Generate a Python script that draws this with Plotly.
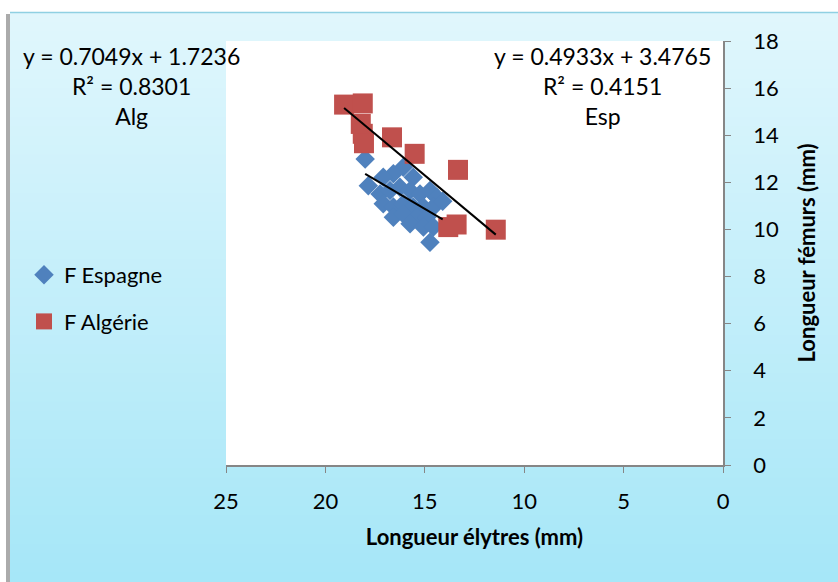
import numpy as np
import plotly.graph_objects as go

# Élytres (x) and fémurs (y) lengths, in mm
esp_elytres = [18.0, 17.84, 16.08, 16.58, 17.09, 15.58, 17.25, 16.75, 16.25, 15.74,
               15.24, 14.74, 14.4, 17.09, 16.58, 16.08, 15.58, 15.07, 14.57, 16.58,
               16.08, 15.41, 14.9, 15.74, 15.07, 14.57, 14.74, 14.1]
esp_femurs = [12.99, 11.86, 12.64, 12.36, 12.22, 12.22, 11.51, 11.65, 11.79, 11.65,
              11.51, 11.65, 11.37, 11.09, 10.95, 11.09, 10.95, 10.95, 10.95, 10.52,
              10.66, 10.52, 10.52, 10.24, 10.10, 10.10, 9.46, 11.2]

alg_elytres = [19.06, 18.12, 18.22, 18.12, 18.06, 16.65, 15.51, 13.33, 13.82, 13.40, 11.43]
alg_femurs = [15.30, 15.35, 14.48, 14.06, 13.66, 13.91, 13.21, 12.53, 10.10, 10.21, 9.99]

# Linear trend coefficients (slope, intercept, R²)
alg_fit = (0.7049, 1.7236, 0.8301)
esp_fit = (0.4933, 3.4765, 0.4151)

x_ticks = [25, 20, 15, 10, 5, 0]
y_ticks = [0, 2, 4, 6, 8, 10, 12, 14, 16, 18]

BLUE = "#4F81BD"
RED = "#C0504D"
FONT = "Lato"

W, H = 838, 582
L, R, T, B = 226, 723, 41, 465  # plot area in pixels


def px(xp):
    return (xp - L) / (R - L)


def py(yp):
    return (B - yp) / (B - T)


fig = go.Figure()

fig.add_trace(go.Scatter(
    x=esp_elytres, y=esp_femurs, mode="markers", name="F Espagne", legendgroup="esp",
    marker=dict(symbol="diamond", size=15, color=BLUE, line=dict(width=0)),
))
fig.add_trace(go.Scatter(
    x=alg_elytres, y=alg_femurs, mode="markers", name="F Algérie", legendgroup="alg",
    marker=dict(symbol="square", size=20, color=RED, line=dict(width=0)),
))


def trend(xs, fit):
    xx = np.array([min(xs), max(xs)])
    return xx, fit[0] * xx + fit[1]


for xs, fit in ((alg_elytres, alg_fit), (esp_elytres, esp_fit)):
    tx, ty = trend(xs, fit)
    fig.add_trace(go.Scatter(x=tx, y=ty, mode="lines", showlegend=False,
                             line=dict(color="black", width=2), hoverinfo="skip"))

# Background: vertical light-blue gradient inside a frame
shapes = []
top_c = np.array([0xE1, 0xF7, 0xFD])
bot_c = np.array([0xA6, 0xE7, 0xF8])
y0, y1 = 12, H
n = 60
for i in range(n):
    a = y0 + (y1 - y0) * i / n
    b = y0 + (y1 - y0) * (i + 1) / n
    c = top_c + (bot_c - top_c) * (i + 0.5) / n
    shapes.append(dict(type="rect", xref="paper", yref="paper", layer="below",
                       x0=px(10), x1=px(W + 2), y0=py(a), y1=py(b + 0.6),
                       fillcolor="rgb(%d,%d,%d)" % tuple(c.astype(int)),
                       line=dict(width=0)))
# frame shadow on the left and thin top edge
shapes.append(dict(type="rect", xref="paper", yref="paper", layer="below",
                   x0=px(6), x1=px(10), y0=py(14), y1=py(H + 2),
                   fillcolor="#ABABAB", line=dict(width=0)))
shapes.append(dict(type="line", xref="paper", yref="paper", layer="below",
                   x0=px(10), x1=px(W + 2), y0=py(12.5), y1=py(12.5),
                   line=dict(color="#8FD0E2", width=1.5)))
# plot area
shapes.append(dict(type="rect", xref="paper", yref="paper", layer="below",
                   x0=0, x1=1, y0=0, y1=1, fillcolor="white", line=dict(width=0)))

ann_font = dict(family=FONT, size=23, color="black")
annotations = [
    dict(xref="paper", yref="paper", x=px(131), y=py(86), xanchor="center", yanchor="middle",
         text="y = %.4fx + %.4f<br>R² = %.4f<br>Alg" % alg_fit, showarrow=False,
         font=ann_font, align="center"),
    dict(xref="paper", yref="paper", x=px(602), y=py(86), xanchor="center", yanchor="middle",
         text="y = %.4fx + %.4f<br>R² = %.4f<br>Esp" % esp_fit, showarrow=False,
         font=ann_font, align="center"),
]

fig.update_layout(
    width=W, height=H,
    margin=dict(l=L, r=W - R, t=T, b=H - B),
    paper_bgcolor="white", plot_bgcolor="white",
    font=dict(family=FONT, size=22, color="black"),
    shapes=shapes, annotations=annotations,
    showlegend=True,
    legend=dict(xref="container", yref="container", x=24 / W, y=1 - 254 / H,
                xanchor="left", yanchor="top", bgcolor="rgba(0,0,0,0)",
                font=dict(family=FONT, size=22), itemsizing="trace",
                traceorder="grouped", tracegroupgap=15, itemwidth=30),
    xaxis=dict(range=[25, 0], tickvals=x_ticks, ticks="outside", ticklen=6,
               tickcolor="#868686", showline=True, linecolor="#868686", linewidth=1.5,
               showgrid=False, zeroline=False, tickfont=dict(size=22),
               ticklabelstandoff=10,
               title=dict(text="<b>Longueur élytres (mm)</b>", font=dict(size=22), standoff=16)),
    yaxis=dict(range=[0, 18], tickvals=y_ticks, side="right", ticks="outside", ticklen=6,
               tickcolor="#868686", showline=True, linecolor="#868686", linewidth=1.5,
               showgrid=False, zeroline=False, tickfont=dict(size=22),
               ticklabelstandoff=18,
               title=dict(text="<b>Longueur fémurs (mm)</b>", font=dict(size=22), standoff=22)),
)

fig.write_html("out.html")
